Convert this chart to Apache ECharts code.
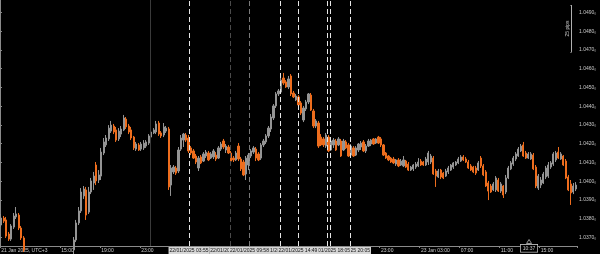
<!DOCTYPE html>
<html><head><meta charset="utf-8">
<script src="https://cdn.jsdelivr.net/npm/echarts@6/dist/echarts.min.js"></script>
<style>html,body{margin:0;padding:0;background:#000}#c{width:600px;height:254px}</style>
</head><body><div id="c"></div>
<script>
// ---- DATA (EURUSD-like, 15-minute candles, UTC+3) ----
const startDate = '2025-01-21 09:00';
const stepMinutes = 15;

const opens = [
1.03766,1.03803,1.03793,1.03718,1.03691,1.03755,1.03809,1.03819,1.03750,1.03697,
1.03633,1.03590,1.03553,1.03569,1.03515,1.03483,1.03505,1.03462,1.03430,1.03457,
1.03483,1.03451,1.03478,1.03515,1.03494,1.03537,1.03563,1.03547,1.03590,1.03633,
1.03686,1.03777,1.03841,1.03921,1.03953,1.03835,1.03942,1.03990,1.04086,1.04006,
1.04027,1.04150,1.04193,1.04225,1.04267,1.04294,1.04273,1.04225,1.04251,1.04273,
1.04331,1.04294,1.04273,1.04235,1.04171,1.04193,1.04171,1.04177,1.04187,1.04203,
1.04235,1.04257,1.04262,1.04310,1.04257,1.04246,1.04267,1.04278,1.03979,1.04049,
1.04070,1.04054,1.04171,1.04219,1.04246,1.04230,1.04177,1.04161,1.04134,1.04070,
1.04129,1.04107,1.04134,1.04150,1.04123,1.04129,1.04139,1.04123,1.04171,1.04214,
1.04166,1.04182,1.04150,1.04123,1.04113,1.04187,1.04118,1.04102,1.04038,1.04086,
1.04134,1.04155,1.04171,1.04145,1.04123,1.04193,1.04209,1.04241,1.04278,1.04337,
1.04401,1.04465,1.04475,1.04550,1.04529,1.04502,1.04561,1.04470,1.04433,1.04449,
1.04417,1.04326,1.04385,1.04422,1.04459,1.04374,1.04294,1.04310,1.04235,1.04225,
1.04187,1.04235,1.04166,1.04193,1.04214,1.04193,1.04214,1.04166,1.04209,1.04193,
1.04139,1.04177,1.04139,1.04166,1.04182,1.04209,1.04161,1.04187,1.04198,1.04225,
1.04203,1.04235,1.04225,1.04193,1.04150,1.04134,1.04123,1.04118,1.04091,1.04113,
1.04086,1.04081,1.04107,1.04091,1.04059,1.04065,1.04075,1.04081,1.04107,1.04102,
1.04086,1.04102,1.04102,1.04123,1.04054,1.04022,1.04059,1.04043,1.04027,1.04049,
1.04059,1.04075,1.04086,1.04097,1.04107,1.04129,1.04118,1.04102,1.04081,1.04075,
1.04070,1.04059,1.04123,1.04081,1.04049,1.03990,1.03974,1.03953,1.03953,1.04006,
1.03947,1.03974,1.03942,1.04017,1.04065,1.04091,1.04118,1.04134,1.04161,1.04193,
1.04150,1.04123,1.04118,1.04139,1.04075,1.03963,1.03979,1.03990,1.04022,1.04027,
1.04075,1.04091,1.04113,1.04155,1.04118,1.04134,1.04107,1.04022,1.03985,1.03942,
1.03958];
const closes = [
1.03803,1.03787,1.03707,1.03691,1.03761,1.03814,1.03825,1.03750,1.03697,1.03633,
1.03590,1.03553,1.03569,1.03515,1.03483,1.03505,1.03462,1.03430,1.03457,1.03483,
1.03451,1.03478,1.03515,1.03494,1.03537,1.03563,1.03547,1.03590,1.03622,1.03686,
1.03777,1.03841,1.03942,1.03958,1.03819,1.03942,1.04001,1.04027,1.04001,1.04033,
1.04155,1.04209,1.04230,1.04283,1.04299,1.04262,1.04219,1.04267,1.04278,1.04337,
1.04289,1.04262,1.04230,1.04177,1.04198,1.04166,1.04198,1.04203,1.04209,1.04241,
1.04262,1.04273,1.04305,1.04251,1.04241,1.04289,1.04283,1.03969,1.04070,1.04075,
1.04043,1.04166,1.04230,1.04251,1.04219,1.04161,1.04150,1.04123,1.04102,1.04123,
1.04097,1.04145,1.04155,1.04113,1.04145,1.04161,1.04118,1.04177,1.04198,1.04182,
1.04187,1.04150,1.04107,1.04113,1.04150,1.04118,1.04065,1.04033,1.04123,1.04139,
1.04161,1.04177,1.04123,1.04113,1.04193,1.04214,1.04241,1.04283,1.04342,1.04401,
1.04465,1.04481,1.04539,1.04523,1.04502,1.04545,1.04465,1.04449,1.04454,1.04406,
1.04363,1.04390,1.04422,1.04465,1.04379,1.04294,1.04321,1.04187,1.04193,1.04193,
1.04246,1.04161,1.04214,1.04219,1.04166,1.04225,1.04134,1.04214,1.04177,1.04134,
1.04187,1.04134,1.04177,1.04198,1.04203,1.04161,1.04187,1.04214,1.04219,1.04198,
1.04225,1.04203,1.04193,1.04139,1.04123,1.04113,1.04102,1.04097,1.04113,1.04081,
1.04107,1.04113,1.04075,1.04059,1.04075,1.04086,1.04091,1.04102,1.04086,1.04086,
1.04118,1.04150,1.04134,1.04038,1.04027,1.04054,1.04022,1.04017,1.04054,1.04070,
1.04086,1.04097,1.04102,1.04118,1.04129,1.04113,1.04102,1.04070,1.04059,1.04049,
1.04043,1.04097,1.04081,1.04033,1.03974,1.03947,1.03942,1.03985,1.04017,1.03947,
1.03985,1.03926,1.04017,1.04070,1.04097,1.04123,1.04145,1.04171,1.04187,1.04134,
1.04123,1.04145,1.04145,1.04065,1.03974,1.04027,1.04006,1.04038,1.04070,1.04086,
1.04097,1.04145,1.04150,1.04123,1.04145,1.04086,1.04017,1.03953,1.03937,1.03974,
1.03979];
const lows = [
1.03755,1.03777,1.03697,1.03681,1.03681,1.03745,1.03798,1.03739,1.03686,1.03622,
1.03579,1.03537,1.03526,1.03499,1.03462,1.03467,1.03441,1.03414,1.03409,1.03441,
1.03435,1.03430,1.03467,1.03478,1.03483,1.03526,1.03531,1.03537,1.03579,1.03606,
1.03675,1.03766,1.03830,1.03905,1.03793,1.03825,1.03931,1.03953,1.03979,1.03990,
1.04006,1.04139,1.04182,1.04214,1.04257,1.04251,1.04209,1.04214,1.04235,1.04267,
1.04278,1.04251,1.04219,1.04166,1.04161,1.04161,1.04161,1.04166,1.04177,1.04193,
1.04225,1.04251,1.04251,1.04241,1.04230,1.04235,1.04257,1.03953,1.03921,1.04038,
1.04033,1.04043,1.04161,1.04182,1.04209,1.04150,1.04139,1.04118,1.04091,1.04054,
1.04091,1.04102,1.04123,1.04107,1.04118,1.04118,1.04107,1.04118,1.04161,1.04171,
1.04150,1.04145,1.04097,1.04102,1.04107,1.04107,1.04054,1.04027,1.04006,1.04059,
1.04123,1.04145,1.04107,1.04107,1.04113,1.04182,1.04198,1.04230,1.04262,1.04326,
1.04390,1.04454,1.04465,1.04513,1.04497,1.04491,1.04454,1.04443,1.04427,1.04401,
1.04353,1.04315,1.04374,1.04411,1.04374,1.04283,1.04283,1.04177,1.04187,1.04182,
1.04177,1.04155,1.04161,1.04177,1.04161,1.04187,1.04129,1.04161,1.04171,1.04129,
1.04134,1.04129,1.04134,1.04155,1.04166,1.04155,1.04150,1.04182,1.04187,1.04193,
1.04198,1.04198,1.04182,1.04134,1.04118,1.04107,1.04097,1.04091,1.04081,1.04075,
1.04081,1.04075,1.04070,1.04054,1.04054,1.04054,1.04065,1.04075,1.04081,1.04081,
1.04081,1.04086,1.04091,1.04033,1.03969,1.04017,1.04011,1.04011,1.04022,1.04038,
1.04054,1.04065,1.04081,1.04091,1.04102,1.04107,1.04097,1.04065,1.04054,1.04043,
1.04033,1.04054,1.04070,1.04027,1.03969,1.03899,1.03937,1.03947,1.03942,1.03942,
1.03937,1.03910,1.03931,1.04011,1.04059,1.04081,1.04107,1.04129,1.04155,1.04129,
1.04118,1.04118,1.04113,1.04059,1.03963,1.03953,1.03963,1.03985,1.04011,1.04017,
1.04065,1.04081,1.04102,1.04118,1.04113,1.04081,1.04011,1.03947,1.03873,1.03931,
1.03947];
const highs = [
1.03825,1.03814,1.03809,1.03729,1.03771,1.03830,1.03862,1.03830,1.03761,1.03707,
1.03643,1.03606,1.03579,1.03579,1.03537,1.03521,1.03515,1.03478,1.03473,1.03499,
1.03494,1.03494,1.03526,1.03531,1.03553,1.03579,1.03579,1.03606,1.03638,1.03702,
1.03793,1.03862,1.03963,1.03974,1.03969,1.03969,1.04017,1.04049,1.04102,1.04059,
1.04177,1.04230,1.04246,1.04299,1.04321,1.04305,1.04289,1.04283,1.04294,1.04353,
1.04342,1.04305,1.04289,1.04241,1.04209,1.04203,1.04209,1.04219,1.04219,1.04251,
1.04267,1.04283,1.04321,1.04321,1.04267,1.04310,1.04294,1.04289,1.04086,1.04086,
1.04081,1.04182,1.04246,1.04257,1.04257,1.04246,1.04187,1.04171,1.04145,1.04134,
1.04139,1.04155,1.04166,1.04161,1.04155,1.04171,1.04155,1.04187,1.04209,1.04225,
1.04198,1.04193,1.04161,1.04134,1.04161,1.04203,1.04129,1.04113,1.04134,1.04150,
1.04171,1.04187,1.04182,1.04155,1.04203,1.04225,1.04251,1.04294,1.04358,1.04411,
1.04475,1.04491,1.04555,1.04577,1.04539,1.04561,1.04571,1.04481,1.04465,1.04459,
1.04427,1.04401,1.04433,1.04470,1.04470,1.04385,1.04331,1.04321,1.04251,1.04235,
1.04257,1.04246,1.04225,1.04230,1.04225,1.04235,1.04225,1.04225,1.04219,1.04203,
1.04198,1.04187,1.04187,1.04203,1.04214,1.04219,1.04198,1.04225,1.04225,1.04230,
1.04230,1.04241,1.04235,1.04198,1.04155,1.04139,1.04129,1.04129,1.04118,1.04123,
1.04118,1.04134,1.04113,1.04102,1.04081,1.04091,1.04102,1.04123,1.04118,1.04107,
1.04129,1.04161,1.04145,1.04134,1.04065,1.04065,1.04065,1.04049,1.04065,1.04081,
1.04091,1.04102,1.04107,1.04129,1.04139,1.04139,1.04129,1.04113,1.04091,1.04081,
1.04081,1.04107,1.04134,1.04091,1.04059,1.04001,1.03985,1.03995,1.04027,1.04017,
1.03995,1.03979,1.04033,1.04081,1.04107,1.04134,1.04155,1.04182,1.04198,1.04209,
1.04161,1.04155,1.04155,1.04150,1.04086,1.04038,1.04022,1.04049,1.04081,1.04102,
1.04107,1.04155,1.04161,1.04182,1.04155,1.04139,1.04118,1.04033,1.04006,1.03990,
1.03995];

// x-axis tick labels (time -> text)
const tickTimes = ['2025-01-21 09:00','2025-01-21 15:00','2025-01-21 19:00','2025-01-21 23:00',
  '2025-01-22 23:00','2025-01-23 03:00','2025-01-23 07:00','2025-01-23 11:00','2025-01-23 15:00'];
const tickTexts = ['21 Jan 2025, UTC+3','15:00','19:00','23:00','23:00','23 Jan 03:00','07:00','11:00','15:00'];

// vertical line objects (drawn order matters for the overlapping time boxes)
const separatorTimes = ['22/01/2025 00:00'];
const dashedLineTimes = ['22/01/2025 08:00','22/01/2025 13:00','22/01/2025 09:58','22/01/2025 20:05',
  '22/01/2025 17:48','22/01/2025 18:05','22/01/2025 14:49','22/01/2025 03:55'];
const dashedLineShade = ['dim','bright','mid','bright','bright','bright','bright','bright'];

// ruler "25 pips"
const rulerTimes = ['23/01/2025 18:06','23/01/2025 18:12'];
const rulerPrices = [1.04939, 1.04689];
const rulerText = '25 pips';

// current time marker
const markerTime = '23/01/2025 13:57';
const markerPrice = 1.03678;
const markerText = '10:37';

// ---- BUILD ----
const GRAY = '#949494', ORANGE = '#ee6d1d', AXIS = '#8a8a8a', TEXT = '#c8c8c8';
const FONT = 'Liberation Sans';
const N = opens.length;
function pad(n){ return (n < 10 ? '0' : '') + n; }
const startParts = startDate.split(' ');
const startDay = +startParts[0].slice(8, 10);
const startMin = (+startParts[1].slice(0, 2)) * 60 + (+startParts[1].slice(3, 5));
const categories = [];
for (let i = 0; i < N; i++) {
  const m = startMin + i * stepMinutes;
  const d = startDay + Math.floor(m / 1440);
  const md = m % 1440;
  categories.push('2025-01-' + pad(d) + ' ' + pad(Math.floor(md / 60)) + ':' + pad(md % 60));
}
function toMinutes(s) { // 'DD/MM/YYYY HH:mm' -> minutes since first candle
  const d = +s.slice(0, 2), h = +s.slice(11, 13), mi = +s.slice(14, 16);
  return (d - startDay) * 1440 + h * 60 + mi - startMin;
}
const tickIndex = {};
tickTimes.forEach((t, k) => { tickIndex[categories.indexOf(t)] = tickTexts[k]; });
const candleData = opens.map((o, i) => [o, closes[i], lows[i], highs[i]]);

const shadeColor = { dim: '#4a4a4a', mid: '#7a7a7a', bright: '#e6e6e6' };
const boxLabel = {
  show: true, position: 'start', distance: 1, color: '#111', backgroundColor: '#d6d6d6',
  padding: [1, 1, 0, 1], fontSize: 5, lineHeight: 6, fontFamily: FONT
};
const vLines = [];
separatorTimes.forEach(t => vLines.push({ xAxis: toMinutes(t), lineStyle: { color: '#3a3a3a', type: 'solid', width: 1 }, label: { show: false } }));
dashedLineTimes.forEach((t, k) => vLines.push({
  xAxis: toMinutes(t),
  lineStyle: { color: shadeColor[dashedLineShade[k]], type: [5, 3], width: 1 },
  label: Object.assign({}, boxLabel, { formatter: t })
}));

const rx0 = toMinutes(rulerTimes[0]), rx1 = toMinutes(rulerTimes[1]);

const option = {
  backgroundColor: '#000',
  animation: false,
  grid: { left: 0, right: 23, top: 0, bottom: 8, containLabel: false, outerBoundsMode: 'none' },
  xAxis: [{
    type: 'category', data: categories, boundaryGap: true,
    axisLine: { show: true, lineStyle: { color: AXIS, width: 1 } },
    axisTick: { show: true, length: 2, lineStyle: { color: AXIS }, interval: (i) => tickIndex[i] !== undefined },
    axisLabel: { show: true, interval: (i) => tickIndex[i] !== undefined, formatter: (v, i) => tickIndex[i] || '',
      align: 'left', color: TEXT, fontSize: 5, fontFamily: FONT, margin: 2 },
    splitLine: { show: false }
  }, {
    type: 'value', min: 0, max: N * stepMinutes, show: false
  }],
  yAxis: [{
    type: 'value', position: 'right', min: 1.03654, max: 1.04966, splitNumber: 13,
    minInterval: 0.001, maxInterval: 0.001,
    axisLine: { show: true, lineStyle: { color: AXIS, width: 1 } },
    axisTick: { show: true, length: 2, lineStyle: { color: AXIS } },
    axisLabel: { show: true, showMinLabel: false, showMaxLabel: false, color: TEXT, fontSize: 5, fontFamily: FONT, margin: 2,
      formatter: v => v.toFixed(4) + '\u2080' },
    splitLine: { show: false }
  }],
  series: [{
    type: 'candlestick', xAxisIndex: 0, yAxisIndex: 0, data: candleData, barWidth: 1.7, clip: true,
    itemStyle: { color: GRAY, color0: ORANGE, borderColor: GRAY, borderColor0: ORANGE, borderColorDoji: GRAY, borderWidth: 1 }
  }, {
    type: 'line', xAxisIndex: 1, yAxisIndex: 0, data: [], silent: true,
    markLine: { silent: true, symbol: ['none', 'none'], animation: false, data: vLines },
    markPoint: { silent: true, animation: false, data: [{
      coord: [toMinutes(markerTime), markerPrice], symbol: 'triangle', symbolSize: [5, 4],
      itemStyle: { color: '#000', borderColor: '#cfcfcf', borderWidth: 0.7 },
      label: { show: true, position: 'bottom', distance: 1, formatter: markerText, color: TEXT, backgroundColor: '#000',
        borderColor: '#cfcfcf', borderWidth: 0.7, padding: [1, 2, 0, 2], fontSize: 5, lineHeight: 6, fontFamily: FONT }
    }] }
  }, {
    type: 'line', xAxisIndex: 1, yAxisIndex: 0, data: [], silent: true,
    markLine: { silent: true, symbol: ['none', 'none'], animation: false,
      lineStyle: { color: '#b0b0b0', type: 'solid', width: 1 },
      label: { show: false },
      data: [
        [{ coord: [rx1, rulerPrices[1]], label: { show: true, position: 'middle', formatter: rulerText, color: TEXT, fontSize: 5, fontFamily: FONT, distance: 1 } },
         { coord: [rx1, rulerPrices[0]] }],
        [{ coord: [rx0, rulerPrices[0]] }, { coord: [rx1, rulerPrices[0]] }],
        [{ coord: [rx0, rulerPrices[1]] }, { coord: [rx1, rulerPrices[1]] }]
      ] }
  }]
};
const chart = echarts.init(document.getElementById('c'), null, { renderer: 'canvas' });
chart.setOption(option);
</script>
</body></html>
